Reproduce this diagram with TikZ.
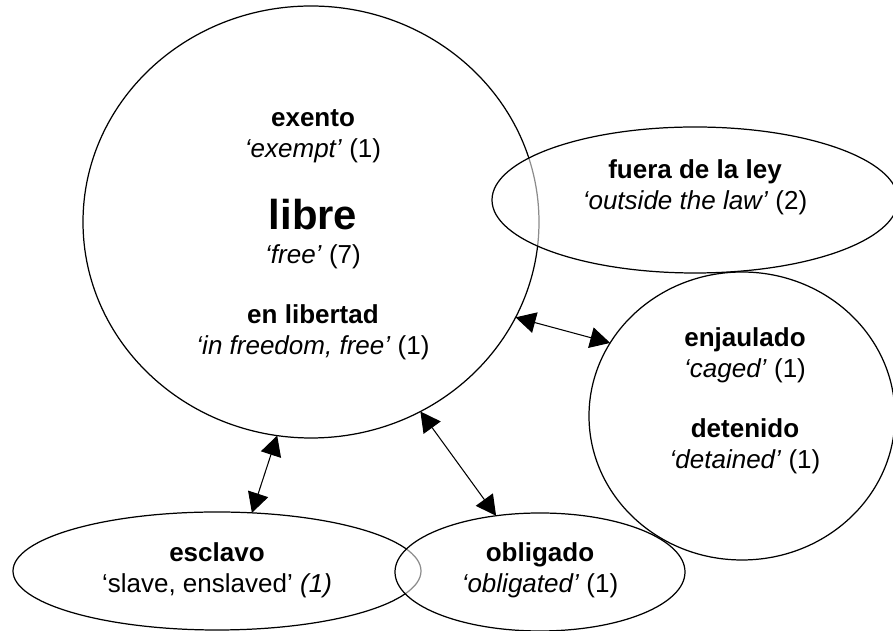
\documentclass[tikz,border=0pt]{standalone}
\usepackage{fontspec}
\setmainfont{Liberation Sans}
\usetikzlibrary{shapes.geometric,arrows.meta}

\begin{document}
\begin{tikzpicture}[
    bubble/.style={draw, ellipse, inner sep=0pt, outer sep=0pt, line width=0.7pt},
    front/.style={fill=white, fill opacity=0.55},
    term/.style={align=center, font=\fontsize{14.8}{17.5}\selectfont},
    link/.style={{Triangle[length=0.4cm,width=0.42cm]}-{Triangle[length=0.4cm,width=0.42cm]}, line width=0.6pt}
]
    \useasboundingbox (0,0) rectangle (17.86,12.62);
    % word groups
    \node[bubble, minimum width=9.12cm, minimum height=8.64cm] (libre) at (6.22,8.18) {};
    \node[bubble, minimum width=8.16cm, minimum height=2.36cm] (esclavo) at (4.34,1.20) {};
    \node[bubble, front, minimum width=8.12cm, minimum height=2.92cm] (fuera) at (13.90,8.62) {};
    \node[bubble, minimum width=6.12cm, minimum height=5.76cm] (jaula) at (14.84,4.30) {};
    \node[bubble, front, minimum width=5.80cm, minimum height=2.36cm] (obligado) at (10.80,1.18) {};

    % labels
    \node[term] (exentoTxt) at (6.26,9.90) {\textbf{exento}\\\textit{`exempt'} (1)};
    \node[term] (libreTxt) at (6.26,7.94) {{\fontsize{23.8}{26}\selectfont\bfseries libre}\\[2pt]\textit{`free'} (7)};
    \node[term] (enlibTxt) at (6.26,5.98) {\textbf{en libertad}\\\textit{`in freedom, free'} (1)};
    \node[term] (fueraTxt) at (13.90,8.87) {\textbf{fuera de la ley}\\\textit{`outside the law'} (2)};
    \node[term] (jaulaTxt) at (14.90,5.52) {\textbf{enjaulado}\\\textit{`caged'} (1)};
    \node[term] (detenidoTxt) at (14.90,3.70) {\textbf{detenido}\\\textit{`detained'} (1)};
    \node[term] (esclavoTxt) at (4.34,1.22) {\textbf{esclavo}\\`slave, enslaved' \textit{(1)}};
    \node[term] (obligadoTxt) at (10.80,1.22) {\textbf{obligado}\\\textit{`obligated'} (1)};

    % links
    \draw[link] (libre.-25) -- (jaula.151);
    \draw[link] (libre.261) -- (esclavo.59);
    \draw[link] (libre.-60) -- (obligado.128);
\end{tikzpicture}
\end{document}
